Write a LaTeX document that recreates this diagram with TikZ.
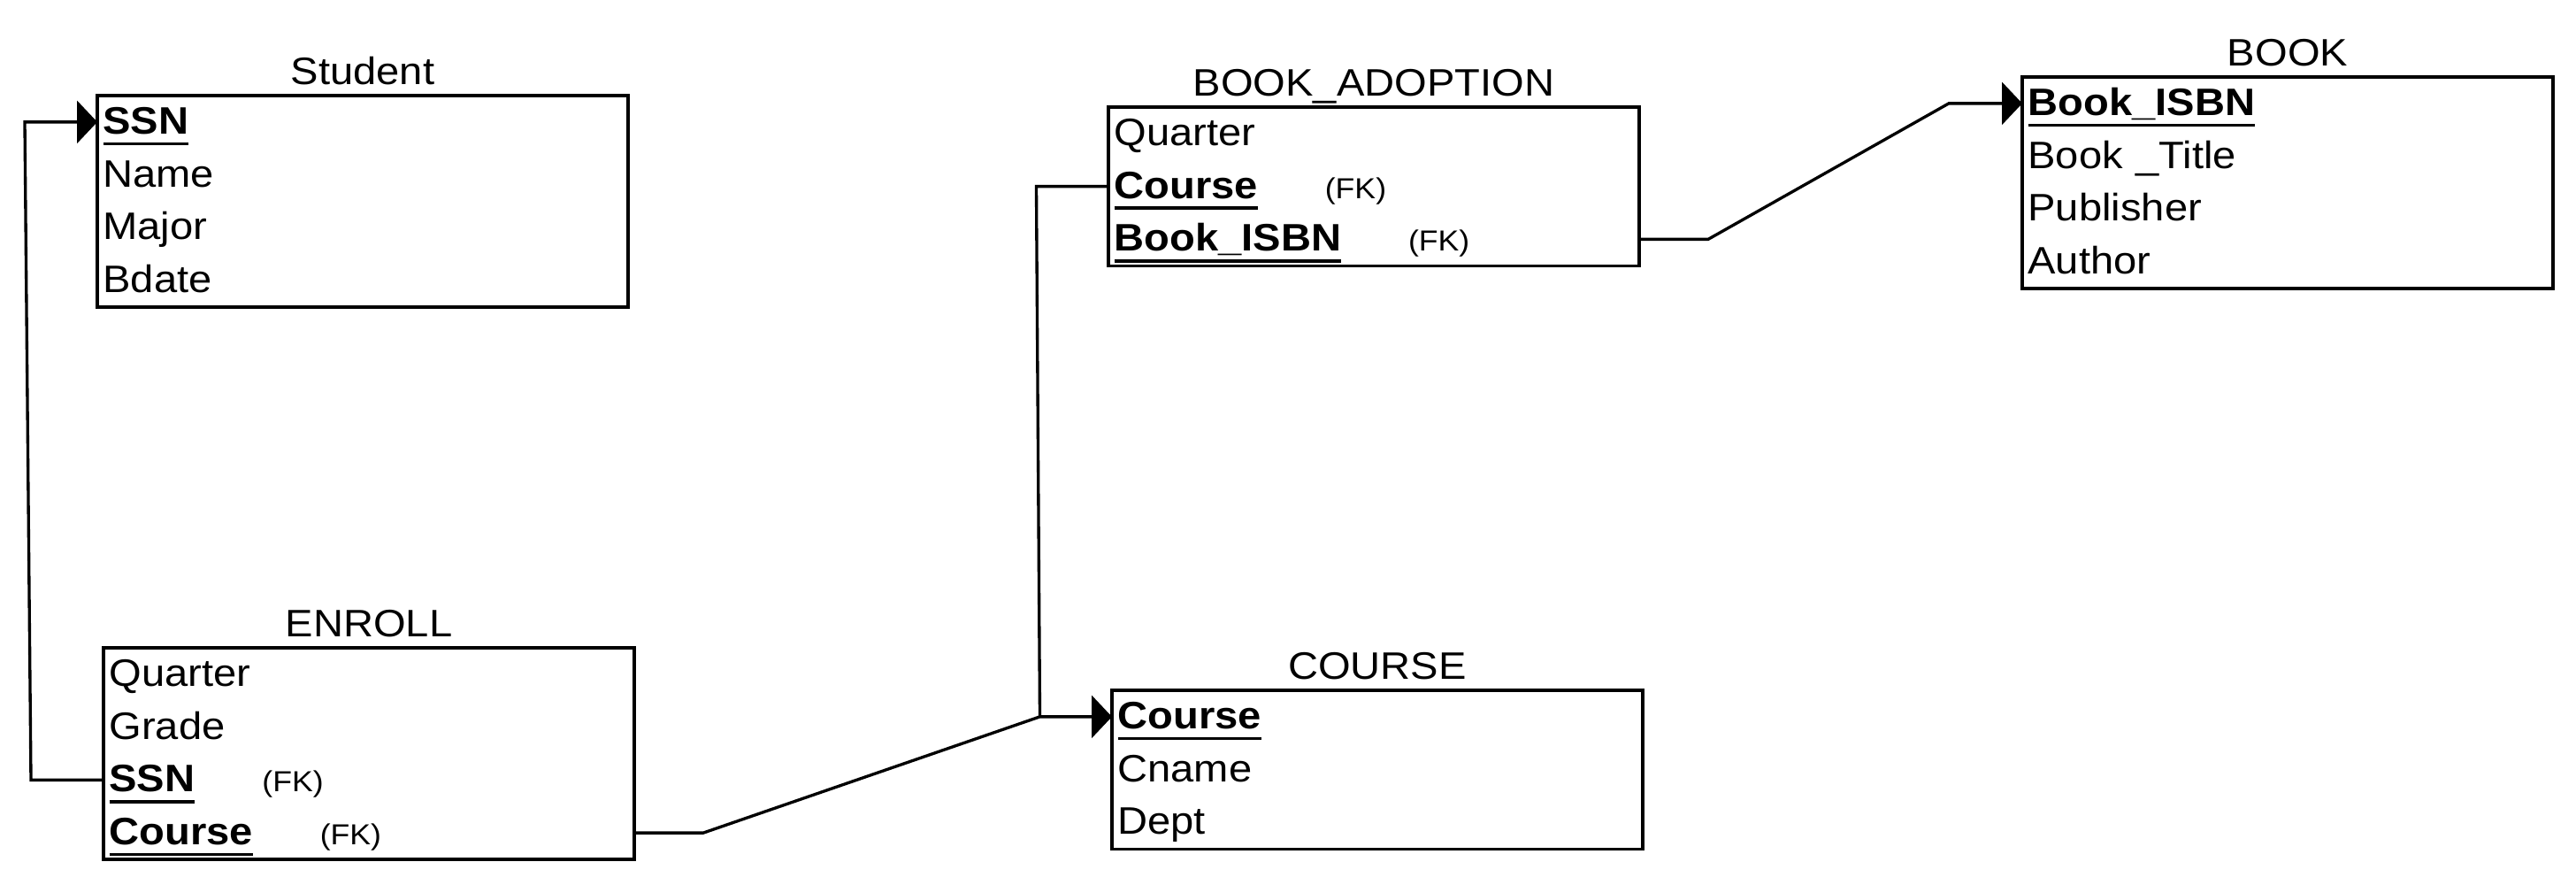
\documentclass[tikz,border=0pt]{standalone}
\usepackage{fontspec}
\setmainfont{Liberation Sans}[FakeStretch=1.09]
\usetikzlibrary{positioning,arrows.meta}

% underlined key attribute and foreign key mark
\newcommand\keyattr[1]{\setbox0\hbox{\bfseries #1}\rlap{\rule[-3.6pt]{\wd0}{0.95pt}}\box0}
\newcommand\fk{\hspace{0.76cm}{\fontsize{9.3}{11}\selectfont (FK)}}

\tikzset{
  table/.style={draw, line width=0.95pt, outer sep=0pt, inner sep=0pt, minimum width=6cm, anchor=north west},
  tabtitle/.style={anchor=base, inner sep=0pt},
  attr/.style={outer sep=0pt, inner xsep=0.065cm, inner ysep=0pt, text width=5.87cm, align=left,
               minimum height=0.5975cm, text height=0.27cm, text depth=0pt},
  fklink/.style={line width=0.95pt, -{Triangle[length=0.23cm, width=0.48cm]}},
}

\begin{document}
\begin{tikzpicture}[font=\fontsize{12.3}{14}\selectfont]
\useasboundingbox (0,0) rectangle (29.12,-10);

% tables
\node[table, minimum height=2.39cm] (stu) at (1.10,-1.08) {};
\node[table, minimum height=2.39cm] (enr) at (1.17,-7.32) {};
\node[table, minimum height=1.7925cm] (ba) at (12.53,-1.21) {};
\node[table, minimum height=1.7925cm] (crs) at (12.57,-7.80) {};
\node[table, minimum height=2.39cm] (book) at (22.86,-0.87) {};

\node[tabtitle] (stu-title) at ([yshift=0.12cm]stu.north) {Student};
\node[tabtitle] (enr-title) at ([yshift=0.12cm]enr.north) {ENROLL};
\node[tabtitle] (ba-title) at ([yshift=0.12cm]ba.north) {BOOK\_ADOPTION};
\node[tabtitle] (crs-title) at ([yshift=0.12cm]crs.north) {COURSE};
\node[tabtitle] (book-title) at ([yshift=0.12cm]book.north) {BOOK};

% attributes
\begin{scope}[every node/.style={attr}]
    \node[below=0pt of stu.north] (stu-ssn) {\keyattr{SSN}};
    \node[below=0pt of stu-ssn] (stu-name) {Name};
    \node[below=0pt of stu-name] (stu-major) {Major};
    \node[below=0pt of stu-major] (stu-bdate) {Bdate};

    \node[below=0pt of enr.north] (enr-quarter) {Quarter};
    \node[below=0pt of enr-quarter] (enr-grade) {Grade};
    \node[below=0pt of enr-grade] (enr-ssn) {\keyattr{SSN}\fk};
    \node[below=0pt of enr-ssn] (enr-course) {\keyattr{Course}\fk};

    \node[below=0pt of ba.north] (ba-quarter) {Quarter};
    \node[below=0pt of ba-quarter] (ba-course) {\keyattr{Course}\fk};
    \node[below=0pt of ba-course] (ba-isbn) {\keyattr{Book\_ISBN}\fk};

    \node[below=0pt of crs.north] (crs-course) {\keyattr{Course}};
    \node[below=0pt of crs-course] (crs-cname) {Cname};
    \node[below=0pt of crs-cname] (crs-dept) {Dept};

    \node[below=0pt of book.north] (book-isbn) {\keyattr{Book\_ISBN}};
    \node[below=0pt of book-isbn] (book-title-attr) {Book \_Title};
    \node[below=0pt of book-title-attr] (book-publisher) {Publisher};
    \node[below=0pt of book-publisher] (book-author) {Author};
\end{scope}

% bends of the links
\coordinate (ssn-low) at ([xshift=-0.82cm]enr-ssn.west);
\coordinate (ssn-high) at ([xshift=-0.82cm]stu-ssn.west);
\coordinate (crs-bend) at ([xshift=0.78cm]enr-course.east);
\coordinate (crs-join) at ([xshift=-0.815cm]crs-course.west);
\coordinate (ba-bend) at ([xshift=-0.815cm]ba-course.west);
\coordinate (isbn-low) at ([xshift=0.78cm]ba-isbn.east);
\coordinate (isbn-high) at ([xshift=-0.83cm]book-isbn.west);

% foreign key links
\draw[fklink] (enr-ssn.west) -- (ssn-low) -- (ssn-high) -- (stu-ssn.west);
\draw[fklink] (enr-course.east) -- (crs-bend) -- (crs-join) -- (crs-course.west);
\draw[line width=0.95pt] (ba-course.west) -- (ba-bend) -- (crs-join);
\draw[fklink] (ba-isbn.east) -- (isbn-low) -- (isbn-high) -- (book-isbn.west);
\end{tikzpicture}
\end{document}
